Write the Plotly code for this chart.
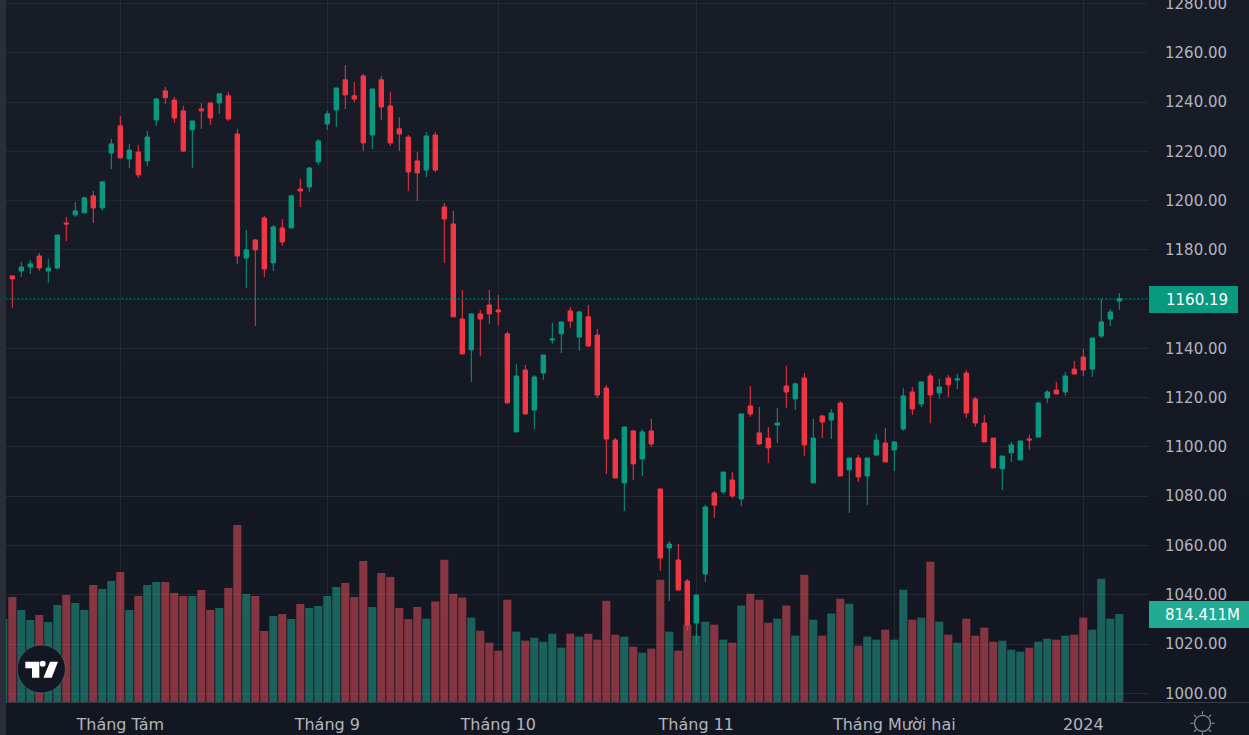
#!/usr/bin/env python3
# -*- coding: utf-8 -*-
import math

import plotly.graph_objects as go

opens = [1159.7, 1169.4, 1171.4, 1173.0, 1177.5, 1171.4, 1172.6, 1190.9, 1194.2, 1195.0,
         1201.9, 1197.0, 1219.3, 1230.3, 1216.9, 1219.7, 1216.1, 1232.7, 1244.5, 1240.8,
         1236.4, 1228.7, 1237.2, 1239.6, 1239.6, 1242.5, 1227.0, 1176.7, 1184.0, 1192.9,
         1174.7, 1188.9, 1188.9, 1204.7, 1205.5, 1215.7, 1231.1, 1236.8, 1249.0, 1242.5,
         1250.6, 1226.6, 1249.0, 1238.4, 1229.1, 1225.8, 1216.1, 1212.4, 1226.6, 1197.4,
         1190.5, 1151.9, 1139.4, 1154.0, 1157.6, 1155.6, 1145.9, 1106.1, 1131.2, 1115.0,
         1130.0, 1143.4, 1145.9, 1155.2, 1144.6, 1152.8, 1145.4, 1123.9, 1102.8, 1085.4,
         1106.5, 1095.1, 1106.5, 1082.9, 1059.0, 1054.1, 1045.6, 1028.5, 1048.4, 1081.3,
         1081.7, 1086.6, 1078.9, 1116.6, 1105.7, 1103.6, 1108.9, 1124.7, 1119.5, 1128.0,
         1085.4, 1112.6, 1110.9, 1117.8, 1090.7, 1095.5, 1088.2, 1096.7, 1101.6, 1098.8,
         1107.3, 1122.3, 1117.4, 1128.8, 1121.9, 1128.0, 1127.2, 1130.0, 1119.5, 1109.7,
         1103.6, 1091.1, 1097.6, 1094.7, 1103.2, 1104.0, 1119.9, 1123.1, 1122.3, 1131.6,
         1136.5, 1131.6, 1145.0, 1151.9, 1159.2]
highs = [1165.3, 1169.8, 1175.1, 1175.9, 1178.7, 1176.3, 1186.0, 1193.3, 1199.4, 1201.5,
         1203.9, 1207.6, 1225.0, 1234.3, 1223.0, 1222.6, 1228.3, 1241.7, 1246.1, 1242.1,
         1238.4, 1232.3, 1239.6, 1239.6, 1243.7, 1244.1, 1229.1, 1188.1, 1184.4, 1193.8,
         1190.1, 1192.5, 1201.9, 1208.8, 1213.6, 1225.0, 1236.4, 1245.7, 1255.0, 1248.1,
         1251.4, 1245.3, 1250.6, 1244.1, 1233.9, 1226.6, 1219.7, 1227.8, 1227.8, 1199.0,
         1195.8, 1163.7, 1154.0, 1155.6, 1163.7, 1161.7, 1146.7, 1133.7, 1133.3, 1129.2,
         1137.3, 1150.3, 1150.7, 1156.8, 1155.2, 1157.6, 1147.9, 1125.2, 1103.6, 1108.1,
         1106.9, 1107.3, 1111.4, 1083.3, 1061.8, 1060.6, 1046.4, 1039.9, 1076.4, 1082.1,
         1089.8, 1089.8, 1113.4, 1124.7, 1116.2, 1108.1, 1115.8, 1132.9, 1126.0, 1130.0,
         1111.4, 1113.0, 1115.4, 1118.7, 1095.5, 1096.7, 1095.5, 1105.3, 1107.7, 1102.4,
         1123.9, 1124.3, 1126.4, 1130.0, 1127.6, 1129.2, 1129.6, 1131.2, 1120.3, 1113.0,
         1103.6, 1096.3, 1102.0, 1102.4, 1104.9, 1118.3, 1123.1, 1126.4, 1130.4, 1134.9,
         1139.8, 1144.2, 1160.1, 1156.0, 1162.5]
lows = [1159.7, 1156.5, 1169.0, 1170.2, 1171.4, 1166.6, 1172.2, 1183.6, 1193.3, 1195.0,
        1190.9, 1195.8, 1212.8, 1217.3, 1213.2, 1209.2, 1214.0, 1230.3, 1239.2, 1231.5,
        1219.7, 1213.2, 1229.1, 1230.7, 1235.2, 1232.3, 1174.3, 1164.5, 1149.1, 1169.0,
        1171.4, 1181.6, 1188.9, 1197.4, 1203.5, 1214.5, 1228.7, 1229.9, 1237.2, 1240.0,
        1220.1, 1220.9, 1232.7, 1222.2, 1220.1, 1203.9, 1199.8, 1209.6, 1211.6, 1174.7,
        1152.8, 1137.7, 1126.4, 1136.9, 1149.9, 1149.5, 1117.4, 1106.1, 1113.0, 1107.3,
        1127.2, 1141.8, 1138.1, 1148.3, 1139.0, 1140.6, 1119.9, 1089.0, 1087.4, 1074.0,
        1086.6, 1088.2, 1100.0, 1049.7, 1037.5, 1041.9, 1025.3, 1020.0, 1045.2, 1071.2,
        1080.9, 1079.3, 1076.0, 1112.2, 1100.8, 1093.5, 1101.6, 1115.8, 1115.0, 1096.3,
        1085.4, 1103.6, 1103.2, 1088.2, 1073.2, 1085.8, 1076.4, 1096.3, 1093.9, 1090.2,
        1106.5, 1113.0, 1116.2, 1109.7, 1119.5, 1120.3, 1123.5, 1111.8, 1108.1, 1102.0,
        1091.5, 1082.5, 1093.9, 1094.7, 1098.8, 1104.0, 1117.8, 1121.5, 1120.7, 1129.2,
        1128.8, 1128.4, 1144.2, 1149.1, 1155.6]
closes = [1165.3, 1168.2, 1173.0, 1174.3, 1172.6, 1172.6, 1186.0, 1190.5, 1195.8, 1201.1,
          1197.0, 1207.6, 1223.0, 1217.3, 1220.5, 1210.4, 1225.8, 1241.2, 1241.7, 1233.5,
          1220.1, 1232.3, 1236.4, 1233.5, 1243.3, 1233.1, 1177.5, 1180.0, 1180.0, 1172.2,
          1189.3, 1183.2, 1201.9, 1203.9, 1213.2, 1224.2, 1235.2, 1245.7, 1242.9, 1241.2,
          1223.4, 1245.3, 1238.0, 1223.4, 1227.0, 1211.6, 1211.2, 1226.2, 1212.4, 1192.5,
          1152.8, 1137.7, 1154.0, 1151.9, 1154.0, 1154.8, 1117.9, 1128.8, 1113.4, 1128.4,
          1137.3, 1143.8, 1150.7, 1151.1, 1154.8, 1141.0, 1121.1, 1103.2, 1087.4, 1108.1,
          1093.1, 1106.1, 1101.2, 1054.9, 1060.6, 1041.9, 1027.7, 1039.9, 1075.6, 1076.4,
          1089.8, 1080.1, 1113.4, 1113.4, 1101.2, 1099.6, 1109.7, 1122.3, 1125.6, 1100.8,
          1103.6, 1110.1, 1113.8, 1088.2, 1095.5, 1087.8, 1095.5, 1102.8, 1093.9, 1102.0,
          1120.7, 1115.4, 1126.4, 1121.1, 1124.3, 1125.2, 1127.6, 1113.8, 1109.7, 1102.0,
          1091.5, 1096.3, 1100.8, 1102.4, 1102.8, 1117.8, 1122.3, 1121.5, 1128.8, 1129.6,
          1131.2, 1144.2, 1150.7, 1154.8, 1160.19]
# volume in millions
volumes = [768, 972, 851, 759, 805, 740, 898, 990, 916, 851,
           1083, 1046, 1120, 1203, 851, 981, 1083, 1111, 1111, 1009,
           981, 981, 1037, 851, 870, 1055, 1638, 1000, 981, 657,
           796, 814, 768, 907, 870, 888, 981, 1064, 1101, 972,
           1305, 879, 1194, 1157, 870, 768, 879, 771, 929, 1317,
           1003, 966, 781, 660, 549, 475, 947, 651, 568, 595,
           558, 632, 503, 632, 605, 632, 577, 938, 623, 605,
           512, 457, 494, 1132, 651, 475, 716, 614, 743, 716,
           577, 549, 892, 1003, 947, 734, 771, 892, 614, 1178,
           762, 614, 818, 956, 910, 521, 605, 577, 669, 577,
           1040, 762, 781, 1299, 743, 623, 549, 771, 614, 688,
           558, 568, 484, 466, 503, 558, 586, 577, 614, 623,
           781, 669, 1141, 771, 814.411]

month_ticks = [13, 36, 55, 77, 99, 120]
month_labels = ['Tháng Tám', 'Tháng 9', 'Tháng 10', 'Tháng 11', 'Tháng Mười hai', '2024']
price_ticks = [1000, 1020, 1040, 1060, 1080, 1100, 1120, 1140, 1160, 1180, 1200, 1220, 1240, 1260, 1280]
last_price = closes[-1]
last_volume = volumes[-1]

W, H = 1249, 735
PLOT_L, PLOT_R, PLOT_B = 6, 1149, 702
FONT = 'DejaVu Sans'
UP, DOWN = '#089981', '#F23645'
GRID = '#242832'
TEXT = '#B2B5BE'


# pixel position on the page -> paper coordinates
def px(x):
    return (x - PLOT_L) / (PLOT_R - PLOT_L)


def py(y):
    return 1 - y / PLOT_B


def page_shape(kind, x0, y0, x1, y1, **kw):
    return dict(type=kind, xref='paper', yref='paper', x0=px(x0), x1=px(x1), y0=py(y0), y1=py(y1), **kw)


def page_path(points, **kw):
    d = 'M' + 'L'.join(f'{px(x)},{py(y)}' for x, y in points) + 'Z'
    return dict(type='path', xref='paper', yref='paper', path=d, **kw)


idx = list(range(len(closes)))
bar_colors = ['rgba(34,171,148,0.5)' if c >= o else 'rgba(247,82,95,0.5)' for o, c in zip(opens, closes)]

fig = go.Figure()

fig.add_trace(go.Bar(x=idx, y=volumes, marker_color=bar_colors, marker_line_width=0, yaxis='y'))
fig.add_trace(
    go.Candlestick(
        x=idx,
        open=opens,
        high=highs,
        low=lows,
        close=closes,
        yaxis='y2',
        whiskerwidth=0,
        increasing=dict(line=dict(color=UP, width=1), fillcolor=UP),
        decreasing=dict(line=dict(color=DOWN, width=1), fillcolor=DOWN),
    )
)

shapes = []
# background gradient, top to bottom
bands = ['#181C27', '#171B26', '#161A25', '#151924', '#141823', '#131722']
for i, c in enumerate(bands):
    shapes.append(page_shape('rect', 0, i * H / 6, W, (i + 1) * H / 6, fillcolor=c, line_width=0, layer='below'))
# toolbar strip on the left, bottom axis line
shapes.append(page_shape('rect', 0, 0, 6, H, fillcolor='#2A2E39', line_width=0))
shapes.append(page_shape('line', 6, 702.5, W, 702.5, line=dict(color='#363A45', width=1)))
# last price line
shapes.append(dict(type='line', xref='paper', yref='y2', x0=0, x1=1, y0=last_price, y1=last_price,
                   line=dict(color=UP, width=1, dash='1px,3px')))
# value labels
shapes.append(page_shape('rect', 1149, 286, 1238, 313, fillcolor=UP, line_width=0))
shapes.append(page_shape('rect', 1149, 601, 1249, 628, fillcolor='#22AB94', line_width=0))
# tv logo
shapes.append(page_shape('circle', 17.3, 645, 65.3, 693, fillcolor='#131722', line=dict(color='rgba(120,150,150,0.35)', width=1)))
shapes.append(page_path([(25.3, 661.7), (39.3, 661.7), (39.3, 677.7), (32, 677.7), (32, 668.3), (25.3, 668.3)], fillcolor='white', line_width=0))
shapes.append(page_shape('circle', 39.7, 660.7, 45.7, 666.7, fillcolor='white', line_width=0))
shapes.append(page_path([(50, 661.7), (58, 661.7), (51.7, 677.7), (43.5, 677.7)], fillcolor='white', line_width=0))
# sun icon
sun_x, sun_y = 1202.5, 723.3
shapes.append(page_shape('circle', sun_x - 8, sun_y - 8, sun_x + 8, sun_y + 8, line=dict(color='#8A8E99', width=1.2)))
for k in range(8):
    a = math.pi * k / 4
    shapes.append(page_shape('line', sun_x + 9 * math.cos(a), sun_y + 9 * math.sin(a),
                             sun_x + 12 * math.cos(a), sun_y + 12 * math.sin(a),
                             line=dict(color='#8A8E99', width=1.2)))

annotations = [
    dict(text=f'{last_price:.2f}', xref='paper', yref='paper', x=px(1164), y=py(299.5), xanchor='left', yanchor='middle',
         showarrow=False, font=dict(family=FONT, size=15, color='white')),
    dict(text=f'{last_volume:.3f}M', xref='paper', yref='paper', x=px(1163), y=py(614.5), xanchor='left', yanchor='middle',
         showarrow=False, font=dict(family=FONT, size=15, color='white')),
]

fig.update_layout(
    width=W,
    height=H,
    margin=dict(l=PLOT_L, r=W - PLOT_R, t=0, b=H - PLOT_B, autoexpand=False),
    paper_bgcolor='#131722',
    plot_bgcolor='rgba(0,0,0,0)',
    showlegend=False,
    bargap=0.1,
    boxgap=0.3,
    shapes=shapes,
    annotations=annotations,
    xaxis=dict(
        range=[0.3, 127.3],
        rangeslider=dict(visible=False),
        tickmode='array',
        tickvals=month_ticks,
        ticktext=month_labels,
        showgrid=True,
        gridcolor=GRID,
        gridwidth=1,
        zeroline=False,
        automargin=False,
        ticks='outside',
        ticklen=8,
        tickcolor='rgba(0,0,0,0)',
        tickfont=dict(family=FONT, size=16, color=TEXT),
    ),
    yaxis=dict(range=[0, 6497], visible=False, fixedrange=True, automargin=False),
    yaxis2=dict(
        range=[996.47, 1281.4],
        overlaying='y',
        side='right',
        tickmode='array',
        tickvals=price_ticks,
        tickformat='.2f',
        showgrid=True,
        gridcolor=GRID,
        gridwidth=1,
        zeroline=False,
        automargin=False,
        ticks='outside',
        ticklen=12,
        ticklabeloverflow='allow',
        tickcolor='rgba(0,0,0,0)',
        tickfont=dict(family=FONT, size=15, color=TEXT),
    ),
)

fig.write_html('out.html', config=dict(displayModeBar=False), post_script="document.body.style.margin='0';")
